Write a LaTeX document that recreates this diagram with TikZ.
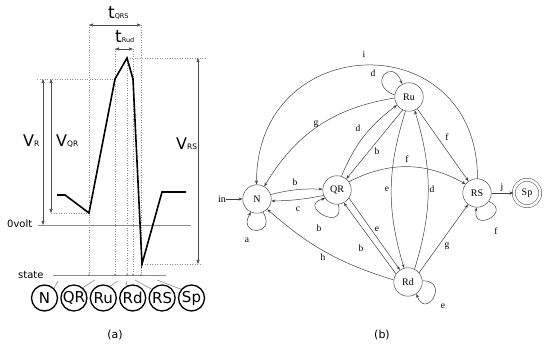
\documentclass[tikz,border=0pt]{standalone}
\usepackage{fontspec}
\setmainfont{Liberation Serif}
\newfontfamily\dvs{DejaVu Sans}
\usetikzlibrary{arrows.meta}
\begin{document}
\begin{tikzpicture}[x=1pt,y=1pt,
  gstate/.style={circle,draw=black!70,line width=0.5pt,minimum size=28.5pt,inner sep=0pt,font=\fontsize{10}{10}\selectfont},
  gedge/.style={draw=black!75,line width=0.5pt,-{Stealth[length=4pt,width=3pt]}},
  glab/.style={font=\fontsize{9.5}{9.5}\selectfont,inner sep=0pt},
  sstate/.style={circle,draw=black,line width=1.3pt,minimum size=26pt,inner sep=0pt,font=\dvs\fontsize{15}{15}\selectfont},
  dotl/.style={draw=black!45,dotted,line width=0.5pt},
  dimarr/.style={draw=black!70,line width=0.6pt,{Triangle[length=4pt,width=3pt]}-{Triangle[length=4pt,width=3pt]}},
  thinline/.style={draw=black!45,line width=0.6pt},
  biglab/.style={inner sep=0pt,anchor=base west,font=\dvs},
  sans/.style={inner sep=0pt,font=\dvs\fontsize{10}{10}\selectfont}]
\useasboundingbox (0,0) rectangle (550,350);

% ---------- (a) waveform ----------
\coordinate (p0) at (57,155);
\coordinate (p1) at (65,155);
\coordinate (pQ) at (89,137);
\coordinate (pR1) at (115,271);
\coordinate (pPk) at (127,292);
\coordinate (pR2) at (133,271);
\coordinate (pS) at (142,86);
\coordinate (pT1) at (162,158);
\coordinate (pT2) at (186,158);

% dotted guides
\draw[dotl] (37,271) -- (pR1);
\draw[dotl] (pPk) -- (205,292);
\draw[dotl] (51,137) -- (pQ);
\draw[dotl] (pS) -- (200,86);
\draw[dotl] (89,325) -- (89,75);
\draw[dotl] (115,301) -- (115,75);
\draw[dotl] (127,292) -- (127,75);
\draw[dotl] (133,301) -- (133,75);
\draw[dotl] (141,325) -- (141,75);

% zero line and state line
\coordinate (z0) at (38,125); \coordinate (z1) at (191,125);
\draw[thinline] (z0) -- (z1);
\coordinate (s0) at (53,75); \coordinate (s1) at (166,75);
\draw[thinline] (s0) -- (s1);
\foreach \xx in {89,115,127,133,141} \fill[black!60] (\xx,75) circle (0.8);

% waveform
\draw[line width=1.6pt,line join=miter] (p0) -- (p1) -- (pQ) -- (pR1) -- (pPk) -- (pR2) -- (pS) -- (pT1) -- (pT2);

% dimension arrows
\draw[dimarr] (43,271) -- (43,125);
\draw[dimarr] (51,271) -- (51,137);
\draw[dimarr] (198,292) -- (198,86);
\draw[dimarr] (89,325) -- (141,325);
\draw[dimarr] (115,301) -- (133,301);

% labels
\node[biglab] (lVR) at (23,203) {\fontsize{16}{16}\selectfont V\fontsize{7.5}{7.5}\selectfont R};
\node[biglab] (lVQR) at (56,203) {\fontsize{16}{16}\selectfont V\fontsize{7.5}{7.5}\selectfont QR};
\node[biglab] (lVRS) at (176,200) {\fontsize{16}{16}\selectfont V\fontsize{7.5}{7.5}\selectfont RS};
\node[biglab] (ltQRS) at (108,331) {\fontsize{17}{17}\selectfont t\fontsize{6.5}{6.5}\selectfont QRS};
\node[biglab] (ltRud) at (115,307) {\fontsize{17}{17}\selectfont t\fontsize{6.5}{6.5}\selectfont Rud};
\node[sans,anchor=base west] (l0v) at (7,122) {0volt};
\node[sans,anchor=base west] (lst) at (18,71) {state};

% state circles
\node[sstate] (aN) at (44.5,52) {N};
\node[sstate] (aQR) at (73.9,52) {QR};
\node[sstate] (aRu) at (103.3,52) {Ru};
\node[sstate] (aRd) at (132.7,52) {Rd};
\node[sstate] (aRS) at (162.1,52) {RS};
\node[sstate] (aSp) at (191.5,52) {Sp};
\coordinate (tN) at (58,69);
\coordinate (tQR) at (95,70);
\coordinate (tRu) at (118,69);
\coordinate (tRd) at (127,69);
\coordinate (tRS) at (135,70);
\coordinate (tSp) at (157,70);
\draw[thinline] (aN.45) -- (tN);
\draw[thinline] (aQR.50) -- (tQR);
\draw[thinline] (aRu.60) -- (tRu);
\draw[thinline] (aRd.120) -- (tRd);
\draw[thinline] (aRS.140) -- (tRS);
\draw[thinline] (aSp.140) -- (tSp);
\node[inner sep=0pt,font=\dvs\fontsize{11}{11}\selectfont] (capa) at (115,15) {(a)};

% ---------- (b) state graph ----------
\node[gstate] (gN) at (257,151) {N};
\node[gstate] (gQR) at (337,160) {QR};
\node[gstate] (gRu) at (409,253) {Ru};
\node[gstate] (gRS) at (477,157) {RS};
\node[gstate] (gRd) at (408,68) {Rd};
\node[gstate,minimum size=26.5pt,double,double distance=2.5pt] (gSp) at (527,157) {Sp};
\node[glab,font=\fontsize{10}{10}\selectfont] (gin) at (222,151) {in};

\draw[gedge] (gin) -- (gN);
\draw[gedge] (gN.-65) .. controls +(-60:28) and +(-120:28) .. (gN.-115);
\draw[gedge] (gN.18) to[bend left=8] (gQR.177);
\draw[gedge] (gQR.-158) to[bend left=5] (gN.-8);
\draw[gedge] (gQR.-85) .. controls +(-75:30) and +(-165:30) .. (gQR.-145);
\draw[gedge] (gRu.184) to[bend right=25] (gN.60);
\draw[gedge] (gRS.88) .. controls +(90:155) and +(90:155) .. (gN.92);
\draw[gedge] (gRu.172) .. controls +(160:30) and +(110:30) .. (gRu.118);
\draw[gedge] (gQR.72) to[bend left=15] (gRu.-146);
\draw[gedge] (gRu.-116) -- (gQR.50);
\draw[gedge] (gRu.-104) to[bend right=17] (gRd.106);
\draw[gedge] (gRd.63) to[bend right=17] (gRu.-67);
\draw[gedge] (gRu.-55) -- (gRS.126);
\draw[gedge] (gQR.35) to[bend left=28] (gRS.142);
\draw[gedge] (gQR.-34) -- (gRd.124);
\draw[gedge] (gRd.146) -- (gQR.-62);
\draw[gedge] (gRd.40) -- (gRS.-128);
\draw[gedge] (gRd.172) to[bend left=12] (gN.-45);
\draw[gedge] (gRd.5) .. controls +(0:28) and +(-70:28) .. (gRd.-55);
\draw[gedge] (gRS.-35) .. controls +(-25:26) and +(-100:26) .. (gRS.-92);
\draw[gedge] (gRS) -- (gSp);

\node[glab] (la) at (247,110) {a};
\node[glab] (lb1) at (295,168) {b};
\node[glab] (lc) at (298,141) {c};
\node[glab] (lb2) at (319,122) {b};
\node[glab] (lg1) at (316,226) {g};
\node[glab] (li) at (364,296) {i};
\node[glab] (ld1) at (373,277) {d};
\node[glab] (ld2) at (358,222) {d};
\node[glab] (lb3) at (377,199) {b};
\node[glab] (lf1) at (447,213) {f};
\node[glab] (lf2) at (407,191) {f};
\node[glab] (le1) at (387,161) {e};
\node[glab] (ld3) at (432,161) {d};
\node[glab] (le2) at (377,121) {e};
\node[glab] (lb4) at (361,102) {b};
\node[glab] (lg2) at (447,104) {g};
\node[glab] (lh) at (323,93) {h};
\node[glab] (le3) at (443,44) {e};
\node[glab] (lf3) at (496,119) {f};
\node[glab] (lj) at (502,163) {j};
\node[inner sep=0pt,font=\dvs\fontsize{11}{11}\selectfont] (capb) at (382,15) {(b)};
\end{tikzpicture}
\end{document}
